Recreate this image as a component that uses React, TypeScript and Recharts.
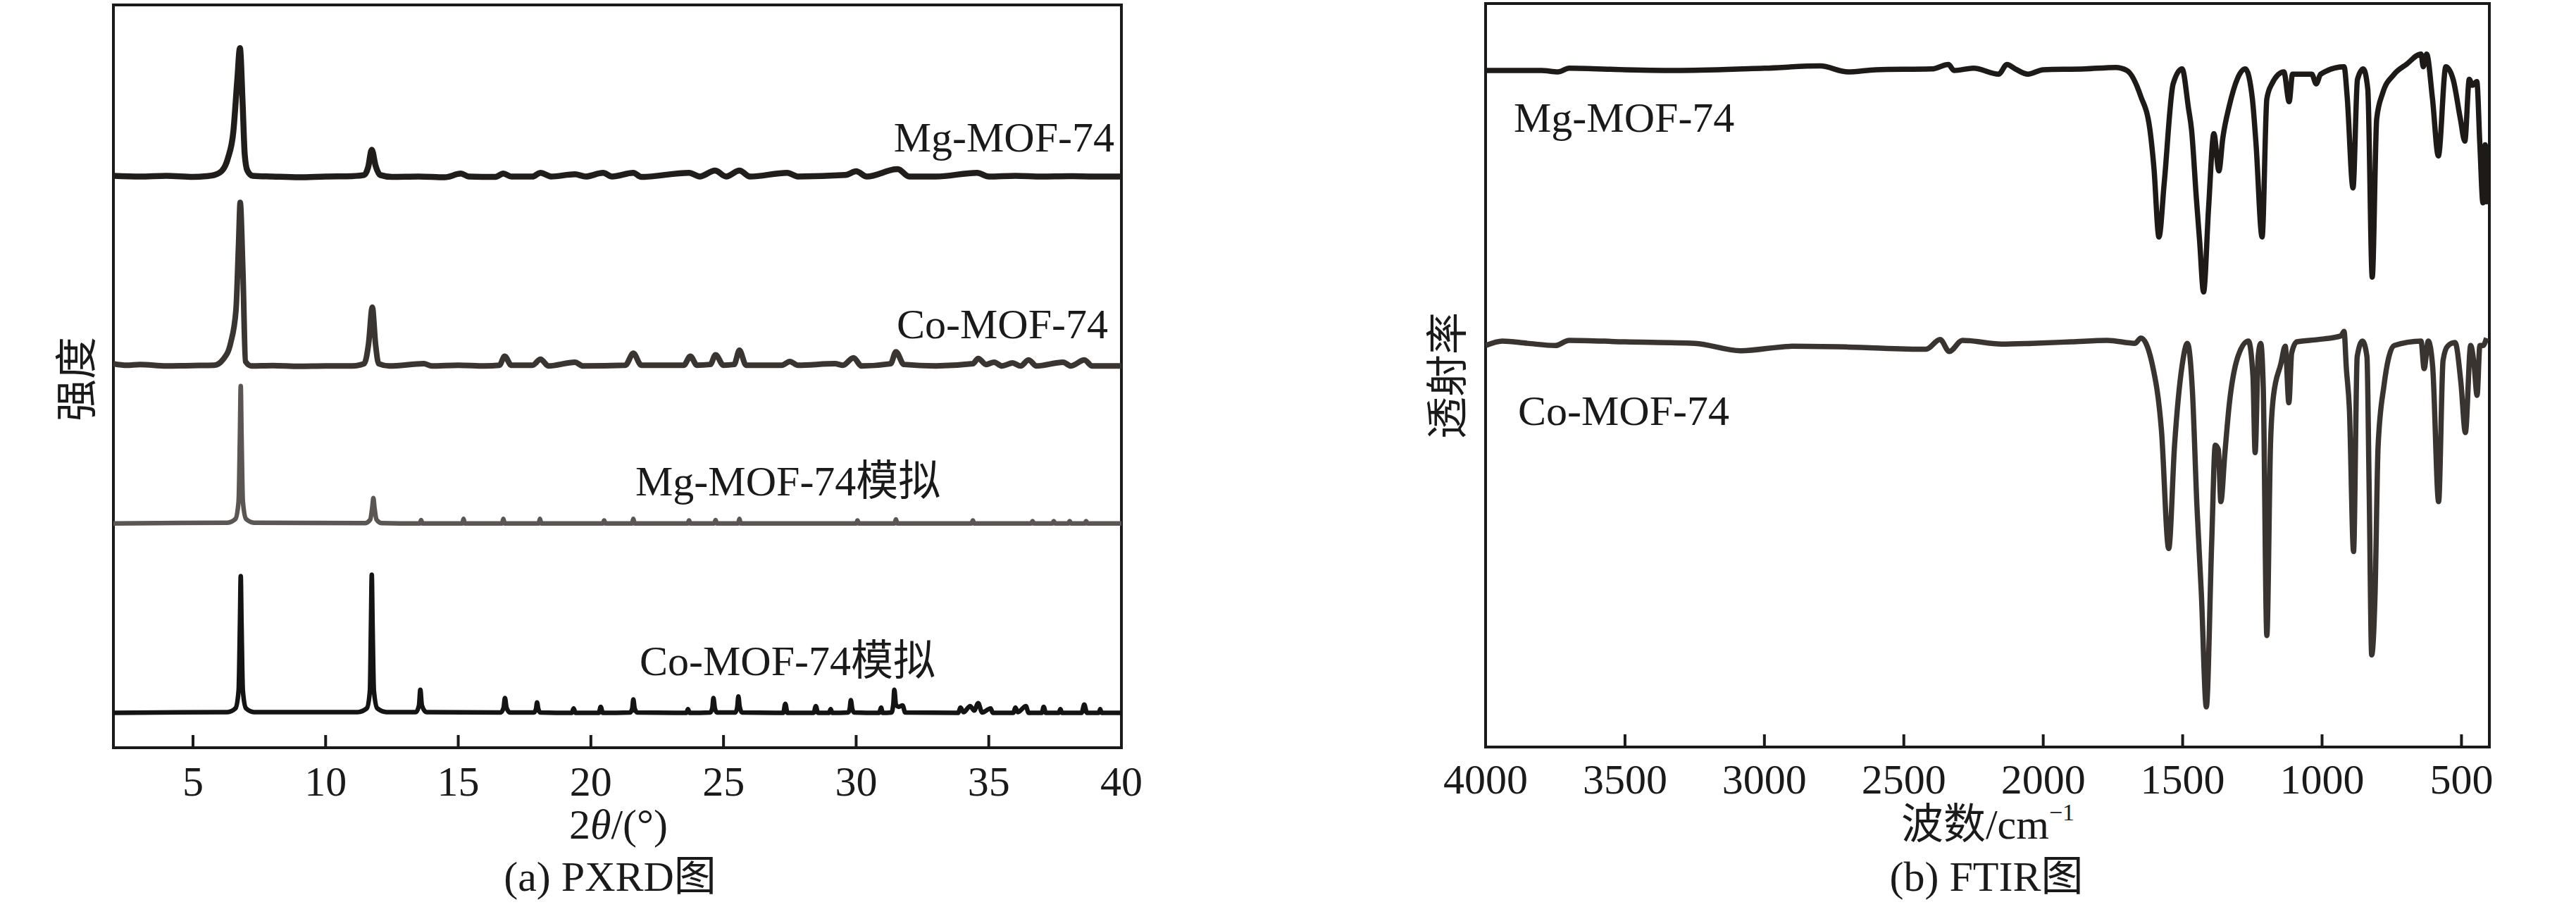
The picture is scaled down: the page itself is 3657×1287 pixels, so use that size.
import React from "react";
import { LineChart, Line, XAxis, YAxis, ReferenceArea } from "recharts";

// PXRD: [2θ, intensity above the trace's own baseline]
const pxrdMg: number[][] = [
  [2, 0.1], [3, 0], [4, 0.1], [5, -0.05], [5.5, 0.05], [5.8, 0.2], [6.1, 0.8], [6.32, 2.5], [6.52, 6],
  [6.67, 13], [6.77, 17.3], [6.87, 10], [6.95, 3], [7.05, 0.8], [7.25, 0.1], [8, 0], [9, -0.1], [10, 0],
  [11, 0.05], [11.45, 0.2], [11.6, 1.2], [11.74, 3.6], [11.88, 1.5], [12.06, 0.2], [12.5, -0.05], [13.5, 0],
  [14.5, -0.1], [15.1, 0.4], [15.4, 0], [16.4, -0.05], [16.7, 0.4], [17, 0], [17.8, 0], [18.1, 0.5], [18.5, 0],
  [19.4, 0.3], [19.8, 0], [20.46, 0.5], [20.8, 0], [21.6, 0.5], [21.9, -0.05], [23.7, 0.5], [24.1, 0],
  [24.68, 0.8], [25.1, 0], [25.6, 0.8], [26, 0], [27.4, 0.5], [27.8, 0], [29.6, 0.2], [30, 0.7], [30.4, 0],
  [31.57, 1.0], [32, 0], [33, 0], [34.56, 0.5], [35, 0], [36, 0.1], [37, 0], [38, 0.05], [39, 0], [40, 0],
];

const pxrdCo: number[][] = [
  [2, 0.3], [2.5, 0.1], [3, 0.2], [4, 0], [5, 0.05], [5.8, 0.1], [6.14, 0.9], [6.42, 3.1], [6.62, 7.5],
  [6.72, 16.5], [6.78, 22], [6.88, 12.9], [6.98, 0.6], [7.2, 0], [8, 0.05], [9, -0.05], [10, 0], [11, 0],
  [11.45, 0.3], [11.62, 3], [11.76, 7.9], [11.88, 3], [12.0, 0.3], [12.4, 0], [13.7, 0.3], [14, 0], [15, 0.1],
  [16, 0], [16.55, 0.1], [16.75, 1.3], [17, 0.1], [17.8, 0.1], [18.1, 0.9], [18.4, 0], [19.4, 0.5], [19.7, 0],
  [21.3, 0.1], [21.6, 1.7], [21.9, 0.1], [23.5, 0.1], [23.75, 1.3], [24, 0.1], [24.5, 0.2], [24.7, 1.5],
  [25, 0.1], [25.4, 0.2], [25.6, 2.1], [25.85, 0.1], [27.2, 0.1], [27.5, 0.6], [27.8, 0.1], [29.2, 0.3],
  [29.5, 0.1], [29.9, 1.1], [30.2, 0], [31.3, 0.3], [31.5, 1.9], [31.8, 0.2], [33, 0], [34.4, 0.3], [34.6, 1.0],
  [34.9, 0.2], [35.2, 0.5], [35.5, 0], [35.9, 0.4], [36.2, 0], [36.5, 0.8], [36.8, 0], [37.8, 0.5], [38.1, 0],
  [38.6, 0.8], [38.9, 0], [40, 0],
];

const pxrdMgSim: number[][] = [
  [2, 0], [6.3, 0.1], [6.6, 0.6], [6.72, 3], [6.77, 12], [6.8, 18.5], [6.83, 12], [6.88, 3], [7.0, 0.6],
  [7.3, 0.1], [11.5, 0.05], [11.68, 0.5], [11.76, 2.2], [11.8, 3.4], [11.84, 2.2], [11.92, 0.5], [12.1, 0.05],
  [13.55, 0], [13.6, 0.45], [13.65, 0], [15.15, 0], [15.2, 0.6], [15.25, 0], [16.65, 0], [16.7, 0.6],
  [16.75, 0], [18.03, 0], [18.08, 0.6], [18.13, 0], [20.45, 0], [20.5, 0.4], [20.55, 0], [21.55, 0],
  [21.6, 0.6], [21.65, 0], [23.65, 0], [23.7, 0.4], [23.75, 0], [24.65, 0], [24.7, 0.45], [24.75, 0],
  [25.55, 0], [25.6, 0.6], [25.65, 0], [30.0, 0], [30.05, 0.4], [30.1, 0], [31.45, 0], [31.5, 0.55],
  [31.55, 0], [34.35, 0], [34.4, 0.4], [34.45, 0], [36.6, 0], [36.65, 0.3], [36.7, 0], [37.4, 0],
  [37.45, 0.3], [37.5, 0], [38.0, 0], [38.05, 0.3], [38.1, 0], [38.62, 0], [38.67, 0.3], [38.72, 0], [40, 0],
];

const pxrdCoSim: number[][] = [
  [2, 0], [6.3, 0.1], [6.6, 0.6], [6.72, 3], [6.77, 12], [6.8, 18.4], [6.83, 12], [6.88, 3], [7.0, 0.6],
  [7.3, 0.1], [11.2, 0.1], [11.55, 0.6], [11.67, 3], [11.71, 12], [11.74, 18.6], [11.77, 12], [11.82, 3],
  [11.95, 0.6], [12.3, 0.1], [13.4, 0.1], [13.52, 1], [13.57, 3.1], [13.63, 1], [13.8, 0.1], [16.6, 0.05],
  [16.71, 0.7], [16.76, 2.0], [16.82, 0.7], [16.95, 0.05], [17.85, 0.05], [17.93, 0.5], [17.97, 1.4],
  [18.02, 0.5], [18.1, 0.05], [19.28, 0], [19.35, 0.6], [19.42, 0], [20.3, 0], [20.37, 0.8], [20.45, 0],
  [21.48, 0.05], [21.56, 0.6], [21.6, 1.8], [21.65, 0.6], [21.75, 0.05], [23.6, 0], [23.66, 0.5], [23.72, 0],
  [24.5, 0.05], [24.58, 0.7], [24.62, 2.0], [24.67, 0.7], [24.75, 0.05], [25.45, 0.05], [25.52, 0.8],
  [25.56, 2.2], [25.61, 0.8], [25.7, 0.05], [27.25, 0], [27.33, 1.2], [27.41, 0], [28.4, 0], [28.48, 0.9],
  [28.56, 0], [28.98, 0], [29.04, 0.5], [29.1, 0], [29.7, 0.05], [29.76, 0.6], [29.8, 1.7], [29.85, 0.6],
  [29.92, 0.05], [30.87, 0], [30.94, 0.7], [31.0, 0], [31.33, 0.05], [31.4, 1.1], [31.44, 3.1], [31.5, 1.1],
  [31.6, 0.8], [31.75, 1.0], [31.85, 0.05], [33.85, 0], [33.93, 0.7], [34.05, 0.1], [34.3, 0.9], [34.45, 0.3],
  [34.6, 1.3], [34.75, 0.05], [35.07, 0.6], [35.15, 0], [35.93, 0], [36.0, 0.7], [36.1, 0.1], [36.4, 0.9],
  [36.5, 0], [37.0, 0], [37.07, 0.8], [37.15, 0], [37.64, 0], [37.7, 0.5], [37.76, 0], [38.5, 0], [38.6, 1.1],
  [38.7, 0], [39.15, 0], [39.2, 0.5], [39.25, 0], [40, 0],
];

// FTIR: [wavenumber, transmittance relative to the trace's baseline]
const ftirMg: number[][] = [
  [4000, 0], [3800, 0], [3740, -0.2], [3700, 0.3], [3500, 0.1], [3300, 0], [3000, 0.3], [2800, 0.6],
  [2700, -0.2], [2600, 0.1], [2400, 0.2], [2340, 0.8], [2320, 0], [2250, 0.3], [2160, -0.5], [2130, 0.8],
  [2100, 0.2], [2055, -0.5], [2000, 0.1], [1850, 0.2], [1740, 0.4], [1700, 0], [1650, -3.5], [1618, -7.8],
  [1603, -13.1], [1585, -22.4], [1566, -15.1], [1534, -1.8], [1502, 0.2], [1479, -5.1], [1468, -8],
  [1451, -17.1], [1439, -23], [1425, -29.8], [1407, -18.5], [1388, -8.5], [1370, -13.5], [1356, -9.1],
  [1333, -4.8], [1275, 0.2], [1250, -3.8], [1237, -9.8], [1215, -22.4], [1198, -3.8], [1180, -1.8],
  [1137, -0.2], [1118, -4.2], [1106, -0.5], [1037, -0.5], [1021, -1.8], [1005, -0.5], [921, 0.5], [910, -3.5],
  [889, -15.8], [873, -1.2], [852, 0.2], [836, -2.5], [820, -27.8], [804, -6.5], [783, -3.1], [741, -0.5],
  [698, 0.8], [645, 2.2], [637, 0.5], [625, 2.2], [604, -3.8], [583, -11.5], [556, 0.5], [530, -1.2],
  [504, -6.5], [488, -9.5], [472, -1.2], [461, -2], [445, -1.5], [434, -10], [423, -17.8], [415, -10],
  [405, -18],
];

const ftirCo: number[][] = [
  [4000, -0.5], [3940, 0.1], [3850, -0.2], [3750, -0.5], [3700, 0.2], [3500, 0], [3250, -0.2], [3085, -1.2],
  [2900, -0.6], [2700, -0.7], [2420, -1], [2370, 0.3], [2337, -1.3], [2290, 0.2], [2150, -0.3], [2040, -0.2],
  [1900, 0], [1770, 0.2], [1671, -0.2], [1650, 0.5], [1608, -3.2], [1576, -11.9], [1550, -27.8],
  [1529, -13.9], [1502, -3.2], [1483, -0.2], [1465, -6.6], [1449, -21.9], [1433, -33.8], [1415, -49.1],
  [1396, -27.2], [1383, -13.9], [1372, -14.5], [1363, -21.5], [1349, -15.2], [1333, -8.5], [1301, -1.9],
  [1264, 0.1], [1248, -4.5], [1240, -14.9], [1229, -1.9], [1220, -0.2], [1211, -6], [1198, -39.5],
  [1185, -13.9], [1174, -7.2], [1148, -3], [1132, -0.6], [1119, -8.2], [1109, -1.5], [1090, 0], [1016, 0.3],
  [932, 0.8], [921, 1.4], [913, -3.5], [902, -9], [887, -28.2], [874, -2], [855, 0.1], [839, -2], [831, -20],
  [822, -42.1], [810, -34], [799, -14], [778, -5.9], [741, -0.5], [645, 0.1], [634, -3.6], [619, 0.1],
  [603, -3.5], [582, -21.5], [566, -2.5], [550, -0.6], [523, -0.1], [502, -5.5], [486, -12.2], [467, -0.5],
  [455, -3], [444, -7.2], [434, -0.5], [423, -0.5], [410, 0.5],
];

const pxrdTicks = [5, 10, 15, 20, 25, 30, 35, 40];
const ftirTicks = [4000, 3500, 3000, 2500, 2000, 1500, 1000, 500];

// vertical stacking of the traces (plot units, 0..100)
const OFF_MG = 76.9;
const OFF_CO = 51.4;
const OFF_MG_SIM = 30.2;
const OFF_CO_SIM = 4.7;
const OFF_FTIR_MG = 91;
const OFF_FTIR_CO = 54.5;

const SERIF = "'Liberation Serif', 'Times New Roman', 'Noto Sans CJK SC', serif";
const INK = "#1a1a1a";

const toPoints = (pairs: number[][], offset: number) =>
  pairs.map(([x, v]) => ({ x, y: v + offset }));

const tickStyle = { fontSize: 60, fill: INK, fontFamily: SERIF };

function PxrdChart() {
  return (
    <LineChart width={1700} height={1287} margin={{ top: 7, left: 161, right: 108, bottom: 126 }}>
      <XAxis
        type="number"
        dataKey="x"
        domain={[2, 40]}
        ticks={pxrdTicks}
        interval={0}
        allowDataOverflow
        height={100}
        axisLine={false}
        tickSize={-18}
        tickMargin={43}
        tickLine={{ stroke: INK, strokeWidth: 4 }}
        tick={tickStyle}
      />
      <YAxis type="number" domain={[0, 100]} hide allowDataOverflow />
      <ReferenceArea x1={2} x2={40} y1={0} y2={100} fill="none" stroke={INK} strokeWidth={4} ifOverflow="visible" />
      <Line data={toPoints(pxrdMg, OFF_MG)} dataKey="y" type="monotone" stroke="#211d1b" strokeWidth={8.5} dot={false} isAnimationActive={false} />
      <Line data={toPoints(pxrdCo, OFF_CO)} dataKey="y" type="monotone" stroke="#3b3532" strokeWidth={8} dot={false} isAnimationActive={false} />
      <Line data={toPoints(pxrdMgSim, OFF_MG_SIM)} dataKey="y" type="monotone" stroke="#5b5653" strokeWidth={6.5} dot={false} isAnimationActive={false} />
      <Line data={toPoints(pxrdCoSim, OFF_CO_SIM)} dataKey="y" type="monotone" stroke="#141414" strokeWidth={6.5} dot={false} isAnimationActive={false} />
    </LineChart>
  );
}

function FtirChart() {
  return (
    <LineChart width={1857} height={1287} margin={{ top: 5, left: 309, right: 123, bottom: 127 }}>
      <XAxis
        type="number"
        dataKey="x"
        domain={[400, 4000]}
        reversed
        ticks={ftirTicks}
        interval={0}
        allowDataOverflow
        height={100}
        axisLine={false}
        tickSize={-18}
        tickMargin={41}
        tickLine={{ stroke: INK, strokeWidth: 4 }}
        tick={tickStyle}
      />
      <YAxis type="number" domain={[0, 100]} hide allowDataOverflow />
      <ReferenceArea x1={400} x2={4000} y1={0} y2={100} fill="none" stroke={INK} strokeWidth={4} ifOverflow="visible" />
      <Line data={toPoints(ftirMg, OFF_FTIR_MG)} dataKey="y" type="monotone" stroke="#1e1a17" strokeWidth={7.5} dot={false} isAnimationActive={false} />
      <Line data={toPoints(ftirCo, OFF_FTIR_CO)} dataKey="y" type="monotone" stroke="#3a3431" strokeWidth={7.5} dot={false} isAnimationActive={false} />
    </LineChart>
  );
}

export default function App() {
  const t = { fontFamily: SERIF, fontSize: 60, fill: INK } as const;
  return (
    <div style={{ position: "absolute", left: 0, top: 0, width: 3657, height: 1287, background: "#fff", overflow: "hidden" }}>
      <div style={{ position: "absolute", left: 0, top: 0 }}>
        <PxrdChart />
      </div>
      <div style={{ position: "absolute", left: 1800, top: 0 }}>
        <FtirChart />
      </div>
      <svg width={3657} height={1287} style={{ position: "absolute", left: 0, top: 0, pointerEvents: "none" }}>
        {/* PXRD panel texts */}
        <text {...t} x={1582} y={215} textAnchor="end">Mg-MOF-74</text>
        <text {...t} x={1573} y={480} textAnchor="end">Co-MOF-74</text>
        <text {...t} x={902} y={703}>Mg-MOF-74模拟</text>
        <text {...t} x={908} y={958}>Co-MOF-74模拟</text>
        <text {...t} x={0} y={0} textAnchor="middle" dominantBaseline="central" transform="translate(110 538) rotate(-90)">强度</text>
        <text {...t} x={878} y={1190} textAnchor="middle">
          2<tspan fontStyle="italic">θ</tspan>/(°)
        </text>
        <text {...t} x={866} y={1264} textAnchor="middle">(a) PXRD图</text>
        {/* FTIR panel texts */}
        <text {...t} x={2149} y={187}>Mg-MOF-74</text>
        <text {...t} x={2155} y={603}>Co-MOF-74</text>
        <text {...t} x={0} y={0} textAnchor="middle" dominantBaseline="central" transform="translate(2056 533) rotate(-90)">透射率</text>
        <text {...t} x={2822} y={1190} textAnchor="middle">
          波数/cm<tspan fontSize={34} dy={-26}>−1</tspan>
        </text>
        <text {...t} x={2820} y={1264} textAnchor="middle">(b) FTIR图</text>
      </svg>
    </div>
  );
}
